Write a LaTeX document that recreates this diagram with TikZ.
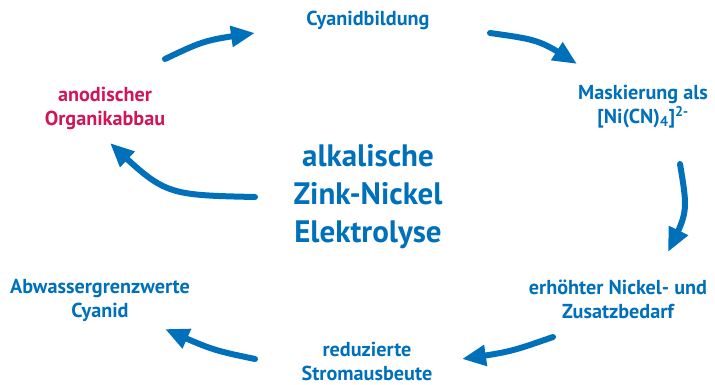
\documentclass[tikz,border=0pt]{standalone}
\usepackage{fontspec}
\setmainfont{PT Sans}
\usepackage{xcolor}
\usetikzlibrary{arrows.meta, bending, positioning}
\definecolor{ZnBlue}{RGB}{0,112,186}
\definecolor{ZnRed}{RGB}{208,22,90}
\tikzset{
  labelB/.style={align=center, text=ZnBlue, inner sep=0pt,
                 font=\bfseries\fontsize{20.2}{24}\selectfont},
  labelR/.style={labelB, text=ZnRed},
  titleB/.style={align=center, text=ZnBlue, inner sep=0pt,
                 font=\bfseries\fontsize{31}{38}\selectfont},
  cycarrow/.style={draw=ZnBlue, line width=6pt, line cap=round,
                   -{Triangle[length=24pt, width=20pt, flex]}},
}
\begin{document}
\begin{tikzpicture}[x=1pt, y=-1pt]
    \useasboundingbox (0,0) rectangle (715,385);
    %% centre of the cycle
    \node[titleB] (zn) at (368,197) {alkalische\\Zink-Nickel\\Elektrolyse};
    %% the six stations, clockwise from the top
    \node[labelB] (cyan) at (368,20)  {Cyanidbildung};
    \node[labelB] (mask) at (643,107) {Maskierung als\\{[}Ni(CN)\textsubscript{4}{]}\textsuperscript{2-}};
    \node[labelB] (need) at (618,299) {erhöhter Nickel- und\\Zusatzbedarf};
    \node[labelB] (curr) at (367,361) {reduzierte\\Stromausbeute};
    \node[labelB] (lim)  at (100,300) {Abwassergrenzwerte\\Cyanid};
    \node[labelR] (org)  at (105,108) {anodischer\\Organikabbau};
    %% arrow ends and bends
    \coordinate (a1s) at (165,59);  \coordinate (a1c) at (205,40);  \coordinate (a1e) at (255,33);
    \coordinate (a2s) at (490,33);  \coordinate (a2c) at (540,40);  \coordinate (a2e) at (577,64);
    \coordinate (a3s) at (680,164); \coordinate (a3c) at (688,212); \coordinate (a3e) at (668,252);
    \coordinate (a4s) at (553,337); \coordinate (a4c) at (510,352); \coordinate (a4e) at (462,359);
    \coordinate (a5s) at (255,359); \coordinate (a5c) at (212,350); \coordinate (a5e) at (165,329);
    \coordinate (a6s) at (255,197); \coordinate (a6c) at (165,195); \coordinate (a6e) at (110,143);
    \foreach \a in {a1,a2,a3,a4,a5,a6}{
      \draw[cycarrow] (\a s) .. controls (\a c) .. (\a e);
    }
\end{tikzpicture}
\end{document}
